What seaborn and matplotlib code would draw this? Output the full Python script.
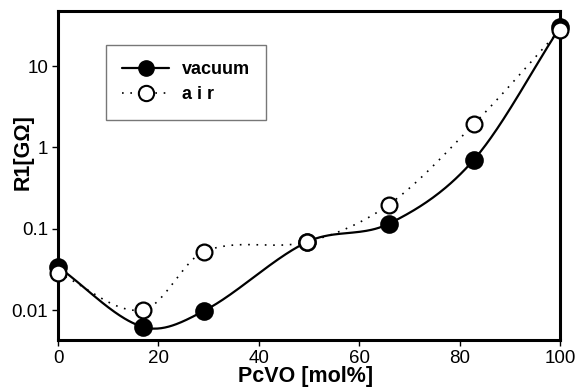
import numpy as np
import pandas as pd
import seaborn as sns
import matplotlib
matplotlib.use("Agg")
import matplotlib.pyplot as plt
from matplotlib.lines import Line2D
from matplotlib.ticker import NullLocator, FixedFormatter, FixedLocator

# PcVO content [mol%] and resistance R1 [GOhm]
pcvo = [0.0, 16.9, 29.0, 49.7, 65.9, 82.8, 100.0]
r1_vacuum = [0.034, 0.0062, 0.0097, 0.069, 0.115, 0.70, 30.0]
r1_air = [0.0285, 0.0100, 0.052, 0.069, 0.198, 1.92, 28.0]

x_ticks = [0, 20, 40, 60, 80, 100]
y_ticks = [0.01, 0.1, 1, 10]
y_tick_labels = ["0.01", "0.1", "1", "10"]


def smooth_curve(x, y, n=400):
    """Catmull-Rom style cubic Hermite curve through (x, y)."""
    x = np.asarray(x, float)
    y = np.asarray(y, float)
    k = len(x)
    m = np.empty(k)
    m[0] = (y[1] - y[0]) / (x[1] - x[0])
    m[-1] = (y[-1] - y[-2]) / (x[-1] - x[-2])
    m[1:-1] = (y[2:] - y[:-2]) / (x[2:] - x[:-2])
    xs = np.linspace(x[0], x[-1], n)
    idx = np.clip(np.searchsorted(x, xs) - 1, 0, k - 2)
    h = x[idx + 1] - x[idx]
    t = (xs - x[idx]) / h
    h00 = 2 * t ** 3 - 3 * t ** 2 + 1
    h10 = t ** 3 - 2 * t ** 2 + t
    h01 = -2 * t ** 3 + 3 * t ** 2
    h11 = t ** 3 - t ** 2
    ys = h00 * y[idx] + h10 * h * m[idx] + h01 * y[idx + 1] + h11 * h * m[idx + 1]
    return xs, ys


sns.set_style("ticks")
plt.rcParams["font.family"] = ["Liberation Sans", "DejaVu Sans"]
plt.rcParams["text.color"] = "black"
plt.rcParams["axes.labelcolor"] = "black"

fig = plt.figure(figsize=(5.8, 3.88), dpi=100)
ax = fig.add_axes([0.1, 0.1237, 0.8655, 0.8479])

xv, yv = smooth_curve(pcvo, np.log10(r1_vacuum))
xa, ya = smooth_curve(pcvo, np.log10(r1_air))
curve_v = pd.DataFrame({"x": xv, "y": 10 ** yv})
curve_a = pd.DataFrame({"x": xa, "y": 10 ** ya})

sns.lineplot(data=curve_a, x="x", y="y", ax=ax, color="black", lw=1.2,
             linestyle=(0, (1, 4)), sort=False)
sns.lineplot(data=curve_v, x="x", y="y", ax=ax, color="black", lw=1.6, sort=False)

pts_v = pd.DataFrame({"x": pcvo, "y": r1_vacuum})
pts_a = pd.DataFrame({"x": pcvo, "y": r1_air})
sns.scatterplot(data=pts_v, x="x", y="y", ax=ax, s=150, color="black",
                edgecolor="black", linewidth=1.2, zorder=3, clip_on=False)
sns.scatterplot(data=pts_a, x="x", y="y", ax=ax, s=130, color="white",
                edgecolor="black", linewidth=1.6, zorder=4, clip_on=False)

ax.set_yscale("log")
ax.set_xlim(0, 100)
ax.set_ylim(0.00428, 47.5)
ax.xaxis.set_major_locator(FixedLocator(x_ticks))
ax.yaxis.set_major_locator(FixedLocator(y_ticks))
ax.yaxis.set_major_formatter(FixedFormatter(y_tick_labels))
ax.yaxis.set_minor_locator(NullLocator())
ax.xaxis.set_minor_locator(NullLocator())

for side in ["left", "right", "top", "bottom"]:
    ax.spines[side].set_visible(True)
    ax.spines[side].set_linewidth(2.2)
    ax.spines[side].set_color("black")

ax.tick_params(axis="both", which="major", direction="out", length=4,
               width=1, colors="black", labelsize=13.5, pad=3)
ax.tick_params(top=False, right=False)

ax.set_xlabel("PcVO [mol%]", fontsize=15.5, fontweight="bold", color="black")
ax.set_ylabel("R1[GΩ]", fontsize=15.5, fontweight="bold", color="black")
ax.xaxis.set_label_coords(0.494, -0.078)
ax.yaxis.set_label_coords(-0.048, 0.571)

handles = [
    Line2D([0], [0], color="black", lw=1.6, marker="o", markersize=11,
           markerfacecolor="black", markeredgecolor="black"),
    Line2D([0], [0], color="black", lw=1.2, linestyle=(0, (1, 4)), marker="o",
           markersize=11, markerfacecolor="white", markeredgecolor="black",
           markeredgewidth=1.5),
]
leg = ax.legend(handles, ["vacuum", "a i r"], loc="upper left",
                bbox_to_anchor=(0.096, 0.897), frameon=True, fancybox=False,
                edgecolor="#777777", framealpha=1, handlelength=2.6,
                handletextpad=0.7, borderpad=0.9, labelspacing=0.45,
                prop={"size": 13, "weight": "bold"}, borderaxespad=0)
leg.get_frame().set_linewidth(1.0)
for t in leg.get_texts():
    t.set_color("black")

fig.savefig("out.png", dpi=100)
